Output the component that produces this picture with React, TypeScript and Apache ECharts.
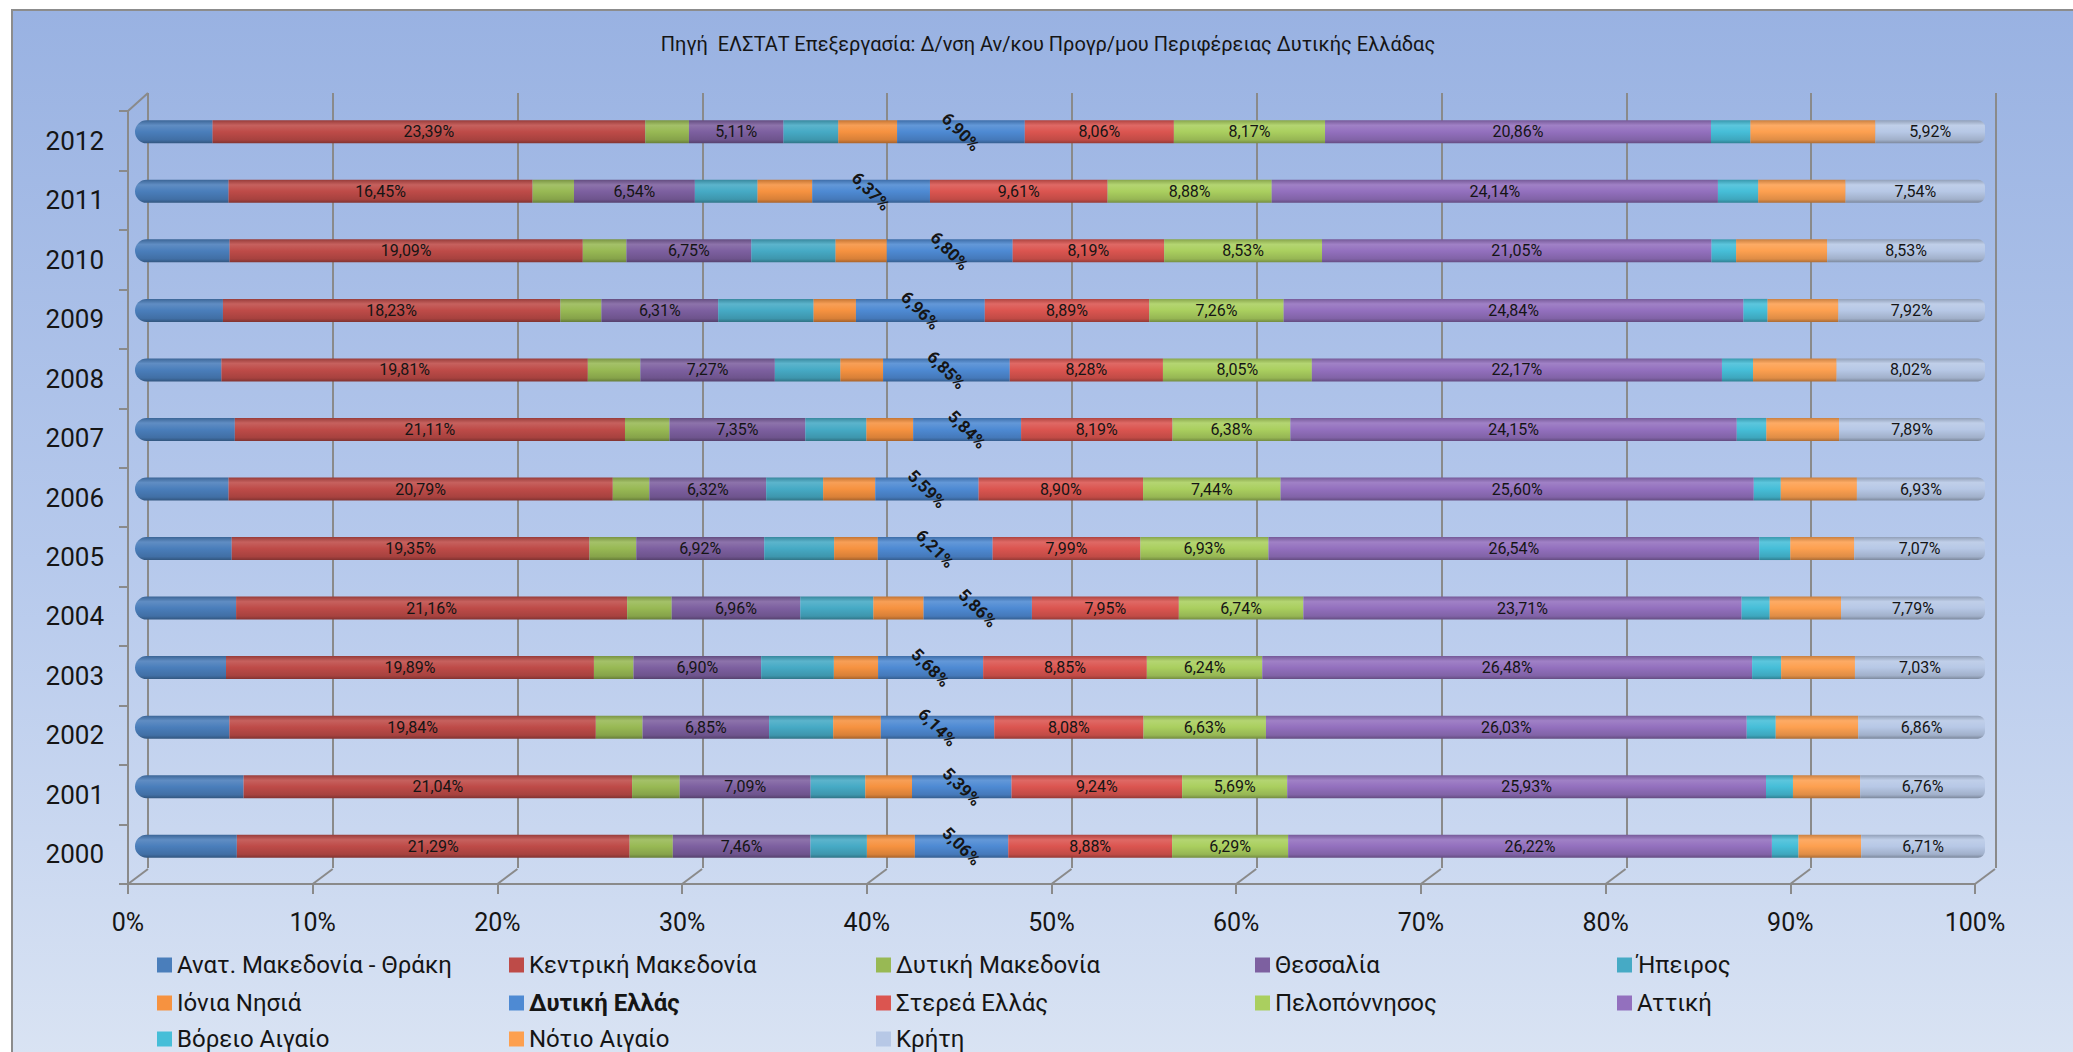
import React, { useEffect, useRef } from 'react';
import * as echarts from 'echarts';

const years = ['2000', '2001', '2002', '2003', '2004', '2005', '2006', '2007', '2008', '2009', '2010', '2011', '2012'];

const regionNames = [
  'Ανατ. Μακεδονία - Θράκη',
  'Κεντρική Μακεδονία',
  'Δυτική Μακεδονία',
  'Θεσσαλία',
  'Ήπειρος',
  'Ιόνια Νησιά',
  'Δυτική Ελλάς',
  'Στερεά Ελλάς',
  'Πελοπόννησος',
  'Αττική',
  'Βόρειο Αιγαίο',
  'Νότιο Αιγαίο',
  'Κρήτη',
];

// values per year, 2000 → 2012 (percent of the country total)
const anatMakedonia = [5.52, 5.88, 5.11, 4.92, 5.47, 5.23, 5.06, 5.40, 4.67, 4.75, 5.11, 5.06, 4.19];
const kentrikiMakedonia = [21.29, 21.04, 19.84, 19.89, 21.16, 19.35, 20.79, 21.11, 19.81, 18.23, 19.09, 16.45, 23.39];
const dytikiMakedonia = [2.34, 2.58, 2.53, 2.14, 2.41, 2.53, 1.98, 2.41, 2.84, 2.22, 2.36, 2.24, 2.36];
const thessalia = [7.46, 7.09, 6.85, 6.90, 6.96, 6.92, 6.32, 7.35, 7.27, 6.31, 6.75, 6.54, 5.11];
const ipeiros = [3.06, 2.96, 3.47, 3.93, 3.95, 3.78, 3.08, 3.30, 3.54, 5.15, 4.55, 3.39, 2.96];
const ioniaNisia = [2.60, 2.53, 2.58, 2.39, 2.72, 2.36, 2.82, 2.53, 2.31, 2.29, 2.77, 2.96, 3.18];
const dytikiEllada = [5.06, 5.39, 6.14, 5.68, 5.86, 6.21, 5.59, 5.84, 6.85, 6.96, 6.80, 6.37, 6.90];
const stereaEllada = [8.88, 9.24, 8.08, 8.85, 7.95, 7.99, 8.90, 8.19, 8.28, 8.89, 8.19, 9.61, 8.06];
const peloponnisos = [6.29, 5.69, 6.63, 6.24, 6.74, 6.93, 7.44, 6.38, 8.05, 7.26, 8.53, 8.88, 8.17];
const attiki = [26.22, 25.93, 26.03, 26.48, 23.71, 26.54, 25.60, 24.15, 22.17, 24.84, 21.05, 24.14, 20.86];
const voreioAigaio = [1.44, 1.46, 1.57, 1.57, 1.52, 1.68, 1.46, 1.60, 1.68, 1.30, 1.33, 2.18, 2.13];
const notioAigaio = [3.40, 3.64, 4.47, 3.99, 3.86, 3.46, 4.12, 3.94, 4.52, 3.83, 4.92, 4.73, 6.76];
const kriti = [6.71, 6.76, 6.86, 7.03, 7.79, 7.07, 6.93, 7.89, 8.02, 7.92, 8.53, 7.54, 5.92];

const seriesValues = [
  anatMakedonia, kentrikiMakedonia, dytikiMakedonia, thessalia, ipeiros, ioniaNisia,
  dytikiEllada, stereaEllada, peloponnisos, attiki, voreioAigaio, notioAigaio, kriti,
];

const labelledSeries = [false, true, false, true, false, false, true, true, true, true, false, false, true];

const seriesColors = [
  '#4A7EBB', '#BE4B48', '#98B954', '#7D60A0', '#46AAC5', '#F69240',
  '#4E8AD3', '#DB5550', '#AACF5F', '#9370BE', '#46BED8', '#FDA050', '#B7C8E6',
];

const xTicks = ['0%', '10%', '20%', '30%', '40%', '50%', '60%', '70%', '80%', '90%', '100%'];

const titleText = 'Πηγή  ΕΛΣΤΑΤ Επεξεργασία: Δ/νση Αν/κου Προγρ/μου Περιφέρειας Δυτικής Ελλάδας';

const FONT = "Roboto, 'Noto Sans', 'DejaVu Sans', sans-serif";
const AXIS_GRAY = '#8a8a8a';
const TEXT = '#151515';

function shade(hex: string, f: number): string {
  const n = parseInt(hex.slice(1), 16);
  let r = (n >> 16) & 255, g = (n >> 8) & 255, b = n & 255;
  if (f >= 0) {
    r = r + (255 - r) * f; g = g + (255 - g) * f; b = b + (255 - b) * f;
  } else {
    r = r * (1 + f); g = g * (1 + f); b = b * (1 + f);
  }
  const h = (v: number) => Math.round(Math.max(0, Math.min(255, v))).toString(16).padStart(2, '0');
  return '#' + h(r) + h(g) + h(b);
}

function cylinder(c: string) {
  return new echarts.graphic.LinearGradient(0, 0, 0, 1, [
    { offset: 0, color: shade(c, -0.2) },
    { offset: 0.22, color: shade(c, 0.12) },
    { offset: 0.5, color: c },
    { offset: 0.85, color: shade(c, -0.12) },
    { offset: 1, color: shade(c, -0.32) },
  ]);
}

function fmt(v: number): string {
  return v.toFixed(2).replace('.', ',') + '%';
}

export default function App() {
  const ref = useRef<HTMLDivElement>(null);

  useEffect(() => {
    if (!ref.current) return;
    const chart = echarts.init(ref.current, undefined, { renderer: 'svg' });

    const totals = years.map((_, i) => seriesValues.reduce((s, arr) => s + arr[i], 0));

    const series: any[] = regionNames.map((name, k) => {
      const isDE = k === 6;
      return {
        name,
        type: 'bar',
        stack: 'total',
        xAxisIndex: 0,
        yAxisIndex: 0,
        barWidth: 23,
        z: 3,
        data: seriesValues[k].map((v, i) => ({ value: (v / totals[i]) * 100, raw: v })),
        itemStyle: {
          color: cylinder(seriesColors[k]),
          borderRadius: k === 0 ? [12, 0, 0, 12] : k === regionNames.length - 1 ? [0, 7, 7, 0] : 0,
        },
        label: labelledSeries[k]
          ? {
              show: true,
              position: 'inside',
              formatter: (p: any) => fmt(p.data.raw),
              fontFamily: FONT,
              fontSize: isDE ? 17 : 16,
              fontWeight: isDE ? 'bold' : 'normal',
              color: TEXT,
              rotate: isDE ? -45 : 0,
              align: 'center',
              verticalAlign: 'middle',
            }
          : { show: false },
        emphasis: { disabled: true },
      };
    });

    // 3D floor connectors (back wall gridline foot → front axis tick)
    series.push({
      type: 'custom',
      xAxisIndex: 2,
      yAxisIndex: 2,
      z: 1,
      silent: true,
      data: xTicks.map((_, i) => [i * 10, 0]),
      renderItem: (params: any, api: any) => {
        const cs = params.coordSys;
        const x = api.coord([api.value(0), 0])[0];
        const bottom = cs.y + cs.height;
        const children: any[] = [
          {
            type: 'line',
            shape: { x1: x, y1: bottom, x2: x + 20, y2: bottom - 15 },
            style: { stroke: AXIS_GRAY, lineWidth: 2 },
          },
        ];
        if (params.dataIndex === 0) {
          children.push({
            type: 'line',
            shape: { x1: x, y1: cs.y, x2: x + 20, y2: cs.y - 18 },
            style: { stroke: AXIS_GRAY, lineWidth: 2 },
          });
        }
        return { type: 'group', children };
      },
    });

    const legendRows = [0, 0, 0, 0, 0, 1, 1, 1, 1, 1, 2, 2, 2];
    const legendCols = [0, 1, 2, 3, 4, 0, 1, 2, 3, 4, 0, 1, 2];
    const colLeft = [152, 504, 871, 1250, 1612];
    const rowTop = [947, 985, 1021];

    chart.setOption({
      animation: false,
      backgroundColor: 'transparent',
      textStyle: { fontFamily: FONT },
      graphic: [
        {
          type: 'text',
          x: 1048,
          y: 44,
          style: {
            text: titleText,
            fill: TEXT,
            font: `20px ${FONT}`,
            textAlign: 'center',
            textVerticalAlign: 'middle',
          },
        },
      ],
      legend: regionNames.map((name, k) => ({
        orient: 'horizontal',
        left: colLeft[legendCols[k]],
        top: rowTop[legendRows[k]],
        padding: 5,
        itemWidth: 15,
        itemHeight: 15,
        icon: 'rect',
        selectedMode: false,
        textStyle: { fontFamily: FONT, fontSize: 24, color: TEXT, lineHeight: 26, fontWeight: k === 6 ? 'bold' : 'normal' },
        data: [{ name, itemStyle: { color: seriesColors[k] } }],
      })),
      grid: [
        { left: 135, width: 1850, top: 102, height: 774 },
        { left: 148, width: 1848, top: 93, height: 775 },
        { left: 128, width: 1847, top: 111, height: 773 },
      ],
      xAxis: [
        { gridIndex: 0, type: 'value', min: 0, max: 100, show: false },
        {
          gridIndex: 1,
          type: 'value',
          min: 0,
          max: 100,
          interval: 10,
          axisLine: { show: false },
          axisTick: { show: false },
          axisLabel: { show: false },
          splitLine: { show: true, lineStyle: { color: AXIS_GRAY, width: 2 } },
        },
        {
          gridIndex: 2,
          type: 'value',
          min: 0,
          max: 100,
          interval: 10,
          axisLine: { show: true, lineStyle: { color: AXIS_GRAY, width: 2 } },
          axisTick: { show: true, length: 10, lineStyle: { color: AXIS_GRAY, width: 2 } },
          axisLabel: {
            show: true,
            formatter: (v: number) => xTicks[Math.round(v / 10)],
            fontFamily: FONT,
            fontSize: 25,
            color: TEXT,
            margin: 26,
          },
          splitLine: { show: false },
        },
      ],
      yAxis: [
        { gridIndex: 0, type: 'category', data: years, show: false },
        { gridIndex: 1, type: 'category', data: years, show: false },
        {
          gridIndex: 2,
          type: 'category',
          data: years,
          axisLine: { show: true, onZero: false, lineStyle: { color: AXIS_GRAY, width: 2 } },
          axisTick: { show: true, length: 9, lineStyle: { color: AXIS_GRAY, width: 2 } },
          axisLabel: { fontFamily: FONT, fontSize: 26, color: TEXT, margin: 24 },
          splitLine: { show: false },
        },
      ],
      series,
    });

    return () => chart.dispose();
  }, []);

  return (
    <div style={{ position: 'absolute', left: 0, top: 0, width: 2073, height: 1052, overflow: 'hidden', background: '#ffffff' }}>
      <div
        style={{
          position: 'absolute',
          left: 11,
          top: 9,
          width: 2100,
          height: 1100,
          border: '2px solid #8c8c8c',
          background: 'linear-gradient(to bottom, #99B2E2 0%, #B6C9EC 50%, #DDE6F4 100%)',
        }}
      />
      <div ref={ref} style={{ position: 'absolute', left: 0, top: 0, width: 2073, height: 1052 }} />
    </div>
  );
}
